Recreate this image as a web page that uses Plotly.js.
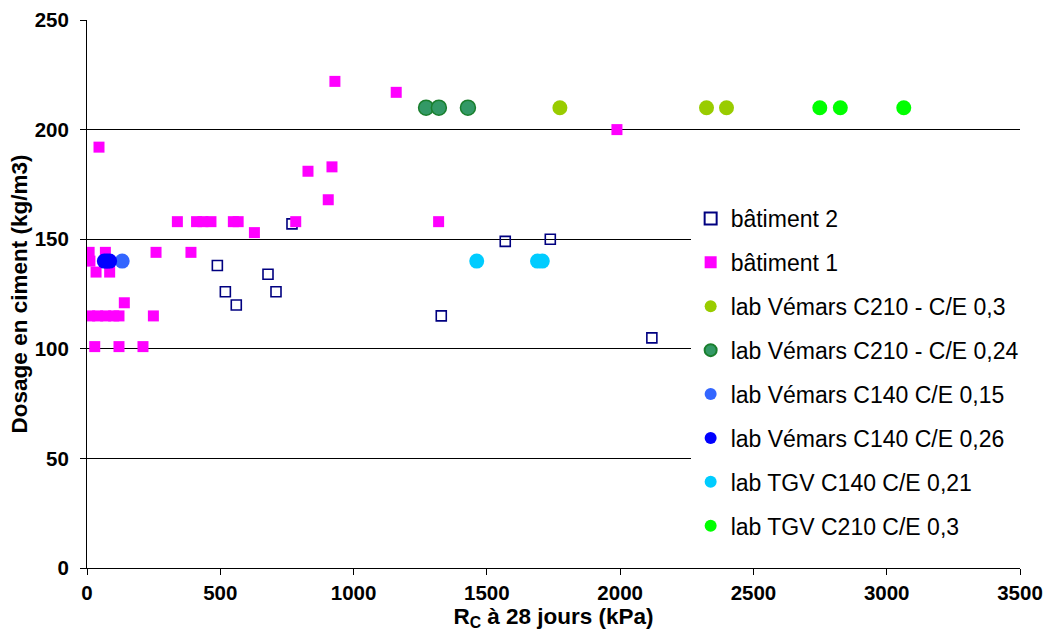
<!DOCTYPE html>
<html>
<head>
<meta charset="utf-8">
<script src="https://cdn.plot.ly/plotly-3.0.1.min.js"></script>
<style>
  html, body { margin: 0; padding: 0; background: #fff; }
  #chart { width: 1051px; height: 639px; }
</style>
</head>
<body>
<div id="chart"></div>
<script>
// ---- data ----
const bat2X = [769, 489, 679, 519, 709, 560, 1569, 1738, 1329, 2119];
const bat2Y = [157, 138, 134, 126, 126, 120, 149, 150, 115, 105];

const bat1X = [45, 829, 919, 905, 339, 411, 435, 465, 549, 567, 628, 783, 930, 1160, 1988, 1319,
               8, 69, 11, 34, 85, 259, 390, 140, 10, 40, 70, 100, 120, 249, 29, 120, 210];
const bat1Y = [192, 181, 183, 168, 158, 158, 158, 158, 158, 158, 153, 158, 222, 217, 200, 158,
               144, 144, 140, 135, 135, 144, 144, 121, 115, 115, 115, 115, 115, 115, 101, 101, 101];

const vemC210_03X = [1774, 2324, 2399];
const vemC210_03Y = [210, 210, 210];

const vemC210_024X = [1272, 1320, 1429];
const vemC210_024Y = [210, 210, 210];

const vemC140_015X = [132];
const vemC140_015Y = [140];

const vemC140_026X = [65, 75, 85];
const vemC140_026Y = [140, 140, 140];

const tgvC140X = [1462, 1690, 1708];
const tgvC140Y = [140, 140, 140];

const tgvC210X = [2749, 2826, 3064];
const tgvC210Y = [210, 210, 210];

const xTicks = [0, 500, 1000, 1500, 2000, 2500, 3000, 3500];
const yTicks = [0, 50, 100, 150, 200, 250];

const names = [
  'bâtiment 2',
  'bâtiment 1',
  'lab Vémars C210 - C/E 0,3',
  'lab Vémars C210 - C/E 0,24',
  'lab Vémars C140 C/E 0,15',
  'lab Vémars C140 C/E 0,26',
  'lab TGV C140 C/E 0,21',
  'lab TGV C210 C/E 0,3'
];

function circ(x, y, name, fill, line) {
  return {
    x: x, y: y, name: name, type: 'scatter', mode: 'markers', legendgroup: name,
    marker: { symbol: 'circle', size: 15, color: fill, line: { color: line, width: line === fill ? 0 : 1.5 } }
  };
}

const traces = [
  { x: bat2X, y: bat2Y, name: names[0], type: 'scatter', mode: 'markers', legendgroup: names[0],
    marker: { symbol: 'square-open', size: 10, color: '#000080', line: { width: 1.6, color: '#000080' } } },
  { x: bat1X, y: bat1Y, name: names[1], type: 'scatter', mode: 'markers', legendgroup: names[1],
    marker: { symbol: 'square', size: 11, color: '#FF00FF', line: { width: 0 } } },
  circ(vemC210_03X, vemC210_03Y, names[2], '#99CC00', '#99CC00'),
  circ(vemC210_024X, vemC210_024Y, names[3], '#339966', '#1a7f2e'),
  circ(vemC140_015X, vemC140_015Y, names[4], '#3366FF', '#3366FF'),
  circ(vemC140_026X, vemC140_026Y, names[5], '#0000FF', '#0000FF'),
  circ(tgvC140X, tgvC140Y, names[6], '#00CCFF', '#00CCFF'),
  circ(tgvC210X, tgvC210Y, names[7], '#00FF00', '#00FF00')
];

const fontFam = 'Arial, "Liberation Sans", Helvetica, sans-serif';

const layout = {
  width: 1051, height: 639,
  margin: { l: 87, r: 31, t: 20, b: 71 },
  paper_bgcolor: '#ffffff', plot_bgcolor: '#ffffff',
  font: { family: fontFam, color: '#000000' },
  showlegend: true,
  legend: {
    x: 0.647, y: 0.677, xanchor: 'left', yanchor: 'top',
    bgcolor: '#ffffff', borderwidth: 0,
    font: { family: fontFam, size: 23, color: '#000000' },
    traceorder: 'grouped', tracegroupgap: 11,
    itemsizing: 'constant', itemwidth: 30
  },
  xaxis: {
    range: [0, 3500], tickvals: xTicks, ticktext: xTicks.map(String),
    showgrid: false, zeroline: false,
    showline: true, linecolor: '#000000', linewidth: 1,
    ticks: 'outside', ticklen: 6, tickcolor: '#000000',
    tickfont: { family: fontFam, size: 20.5, color: '#000000', weight: 'bold' },
    title: { text: 'R<sub>C</sub> à 28 jours (kPa)', font: { family: fontFam, size: 22.5, weight: 'bold' }, standoff: 3 }
  },
  yaxis: {
    range: [0, 250], tickvals: yTicks, ticktext: yTicks.map(String),
    showgrid: true, gridcolor: '#000000', gridwidth: 1, zeroline: false,
    showline: true, linecolor: '#000000', linewidth: 1,
    ticks: 'outside', ticklen: 6, tickcolor: '#000000', ticklabelstandoff: 7,
    tickfont: { family: fontFam, size: 20.5, color: '#000000', weight: 'bold' },
    title: { text: 'Dosage en ciment (kg/m3)', font: { family: fontFam, size: 22.5, weight: 'bold' }, standoff: 0 }
  }
};

Plotly.newPlot('chart', traces, layout, { displayModeBar: false, staticPlot: true });
</script>
</body>
</html>
